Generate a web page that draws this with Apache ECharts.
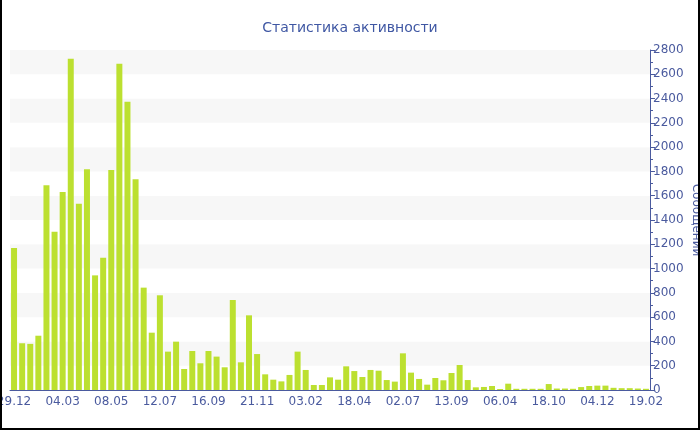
<!DOCTYPE html>
<html>
<head>
<meta charset="utf-8">
<script src="https://cdn.jsdelivr.net/npm/echarts@6/dist/echarts.min.js"></script>
<style>
  html, body { margin: 0; padding: 0; background: #fff; }
  #wrap { position: relative; width: 700px; height: 430px; }
  #chart { width: 700px; height: 430px; }
  #frame { position: absolute; left: 0; top: 0; width: 700px; height: 430px; box-sizing: border-box;
           border-left: 2px solid #000; border-right: 2px solid #000; border-bottom: 2px solid #000; pointer-events: none; }
</style>
</head>
<body>
<div id="wrap"><div id="chart"></div><div id="frame"></div></div>
<script>
const titleText = 'Статистика активности';
const yAxisName = 'Сообщений';
const tickLabels = ['29.12','04.03','08.05','12.07','16.09','21.11','03.02','18.04','02.07','13.09','06.04','18.10','04.12','19.02'];
const values = [
  1170, 385, 380, 447, 1686, 1304, 1630, 2728, 1534, 1817,
  944, 1090, 1812, 2687, 2374, 1735, 843, 472, 780, 316,
  398, 173, 321, 220, 321, 275, 187, 741, 228, 615,
  296, 129, 85, 71, 124, 316, 165, 41, 41, 104,
  85, 195, 156, 107, 165, 159, 82, 69, 302, 143,
  91, 44, 99, 80, 140, 206, 82, 22, 25, 33,
  8, 52, 10, 10, 10, 10, 49, 12, 12, 10,
  24, 33, 36, 36, 18, 15, 15, 12, 10
];
const labelStep = 6;
const categories = values.map((v, i) => (i % labelStep === 0 ? tickLabels[i / labelStep] : '#' + i));

const textColor = '#4a5a9e';
const chart = echarts.init(document.getElementById('chart'));
chart.setOption({
  animation: false,
  backgroundColor: '#fff',
  title: {
    text: titleText,
    left: 'center',
    top: 16,
    textStyle: { fontFamily: 'DejaVu Sans', fontSize: 14, fontWeight: 'normal', color: '#3f57a3' }
  },
  grid: { left: 10, right: 50, top: 50, bottom: 40, containLabel: false, outerBoundsMode: 'none' },
  xAxis: {
    type: 'category',
    data: categories,
    boundaryGap: true,
    axisLine: { lineStyle: { color: textColor, width: 1 } },
    axisTick: { alignWithLabel: true, interval: labelStep - 1, length: 4, lineStyle: { color: textColor } },
    axisLabel: { interval: labelStep - 1, color: textColor, fontFamily: 'DejaVu Sans', fontSize: 12, margin: 6, hideOverlap: false }
  },
  yAxis: {
    type: 'value',
    position: 'right',
    min: 0,
    max: 2800,
    interval: 200,
    name: yAxisName,
    nameLocation: 'middle',
    nameRotate: -90,
    nameGap: 40,
    nameMoveOverlap: false,
    nameTextStyle: { color: textColor, fontFamily: 'DejaVu Sans', fontSize: 12 },
    axisLine: { show: true, lineStyle: { color: textColor } },
    axisTick: { show: true, length: 5, lineStyle: { color: textColor } },
    minorTick: { show: true, splitNumber: 2, length: 3, lineStyle: { color: textColor } },
    axisLabel: { color: textColor, fontFamily: 'DejaVu Sans', fontSize: 12, margin: 3, formatter: (v) => String(v) },
    splitLine: { show: false },
    splitArea: { show: true, areaStyle: { color: ['#ffffff', '#f7f7f7'] } }
  },
  series: [{
    type: 'bar',
    data: values,
    barCategoryGap: '26%',
    itemStyle: { color: '#bce030' }
  }]
});
</script>
</body>
</html>
